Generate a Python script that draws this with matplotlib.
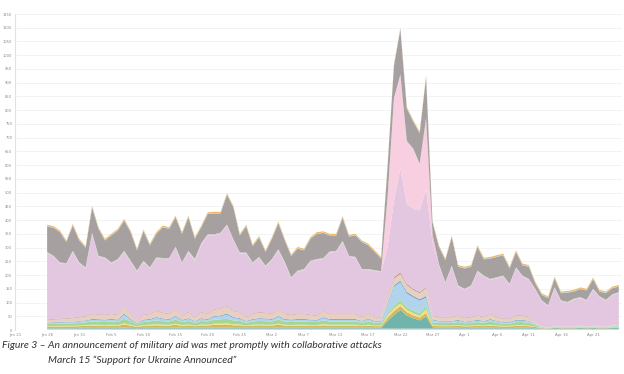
import matplotlib
matplotlib.use("Agg")
import matplotlib.pyplot as plt
import pandas as pd

dates = pd.date_range("2023-01-26", periods=90, freq="D")

pinkline = [2]*78 + [1] + [2]*11
graylo = [2,3,3,3,3,3,3,3,3,3, 3,3,3,3,2,3,3,3,3,3, 3,3,3,3,3,3,3,3,3,3,
          3,3,3,3,3,3,3,3,3,3, 3,3,3,3,3,3,3,3,3,3, 3,3,3,3,3,3,3,3,3,3,
          3,3,3,3,3,3,3,3,3,3, 3,3,3,3,3,3,3,2,2,2, 2,2,2,2,2,2,2,2,2,2]
teal = [2,2,2,2,2,3,3,3,3,3, 3,3,4,3,2,3,3,3,3,3, 4,3,3,3,3,3,4,4,4,3,
        3,3,3,3,3,3,4,3,3,3, 3,3,3,3,3,3,3,3,3,3, 3,3,3,28,50,68,48,38,30,45,
        5,3,3,3,3,2,3,3,3,3, 3,2,2,3,3,3,2,2,1,3, 2,2,2,3,2,3,2,2,3,3]
olive = [5,5,6,6,6,6,7,8,8,7, 8,7,11,8,5,7,8,9,8,8, 10,7,9,6,9,8,10,10,11,9,
         9,6,8,9,8,8,10,8,7,8, 8,7,7,9,8,8,8,8,8,6, 8,6,6,12,14,14,12,10,10,12,
         6,6,6,6,7,6,6,7,6,8, 6,6,6,7,7,6,4,1,1,2, 1,1,1,2,1,2,1,1,2,2]
yellow = [2,2,2,2,2,2,3,3,3,3, 3,3,4,3,2,3,3,4,3,3, 4,3,3,2,3,3,4,4,4,4,
          3,2,3,3,3,3,4,3,3,3, 3,3,3,4,3,3,3,3,3,2, 3,2,2,8,10,10,8,8,6,14,
          3,2,2,2,3,2,2,3,2,3, 2,2,2,3,3,2,1,1,0,1, 1,1,1,1,1,1,1,1,1,1]
green = [8,8,8,9,9,10,10,12,11,11, 12,11,17,12,7,11,12,14,13,12, 15,11,13,10,13,12,15,16,17,14,
         13,10,12,13,13,12,15,12,11,12, 12,11,11,14,12,12,12,12,12,10, 13,10,10,8,10,12,10,10,10,12,
         9,10,10,10,11,9,10,11,10,12, 10,8,8,11,11,10,6,2,2,3, 2,2,2,3,2,3,2,2,3,4]
lightblue = [3,4,4,4,4,5,5,6,6,6, 6,6,15,6,3,6,6,9,7,6, 11,5,7,5,7,6,10,11,15,9,
             7,5,6,7,7,6,10,6,6,6, 6,6,5,9,6,6,6,6,6,5, 7,5,5,35,68,65,50,48,46,30,
             8,5,5,5,5,4,5,5,5,6, 5,4,4,5,5,5,3,1,0,1, 1,1,1,1,1,1,1,1,1,1]
blue = [2,2,2,2,2,2,2,3,3,3, 3,3,4,3,2,3,3,3,3,3, 3,3,3,2,3,3,3,3,4,3,
        3,2,3,3,3,3,3,3,3,3, 3,3,3,3,3,3,3,3,3,2, 3,2,2,4,5,6,6,5,5,6,
        3,2,2,2,3,2,2,3,2,3, 2,2,2,3,3,2,1,0,0,0, 0,0,0,0,0,0,0,0,0,0]
peach = [10,10,11,11,13,13,15,18,17,16, 18,16,25,18,9,16,18,23,20,18, 24,15,21,13,21,18,23,25,26,23,
         21,13,18,21,20,18,23,18,16,18, 18,16,15,23,18,18,18,18,18,13, 20,13,13,22,25,24,24,22,22,28,
         13,13,13,13,15,13,13,15,13,18, 13,11,11,15,15,13,7,1,1,2, 1,1,1,2,1,2,1,1,2,3]
brown = [2]*53 + [4,5,6,5,4,4,4,2] + [2]*15 + [1] + [0]*13
lavender = [240,226,200,196,239,194,172,290,208,204, 182,198,197,188,176,192,164,188,194,198,
            221,188,218,203,242,284,268,270,292,254, 212,230,182,196,166,194,214,182,132,152,
            158,192,200,186,222,224,260,206,202,170, 154,166,162,174,278,380,291,291,297,356,
            266,188,122,182,104,101,110,158,146,122, 140,152,122,170,140,134,116,92,78,136,
            92,86,98,100,94,130,107,94,110,116]
lightpink = [0]*53 + [180,370,336,225,215,166,252,15] + [0]*29
magenta = [0]*59 + [4,12] + [0]*29
silver = [6] + [4]*22 + [8,8] + [4]*12 + [6] + [4]*52
gray = [93,102,110,77,92,80,71,92,98,62, 98,104,110,104,74,108,80,86,112,106,
        107,104,122,73,58,74,76,70,108,116, 62,95,59,70,50,74,95,78,77,80,
        68,80,92,91,58,56,84,70,78,98, 86,66,46,110,118,164,118,98,111,148,
        41,62,80,104,68,74,68,86,59,74, 74,74,56,56,38,44,20,20,26,32,
        26,34,26,29,34,35,17,24,22,20]
cyan = [2]*90
orange = [4]*90

series = [pinkline, graylo, teal, olive, yellow, green, lightblue, blue, peach, brown,
          lavender, lightpink, magenta, silver, gray, cyan, orange]
colors = ["#f2b9d0", "#d0cccc", "#72b4aa", "#d4b75e", "#f5de86", "#a2d894", "#b2d3ec",
          "#6f9fd1", "#e9cfc2", "#b3968a", "#e3c6df", "#f8cfe0", "#e48cb6", "#d8d3d3",
          "#a7a0a0", "#9fd3d6", "#f0b45e"]

yticks = list(range(0, 1151, 50))
xtick_dates = pd.date_range("2023-01-21", "2023-04-21", freq="5D")

fig = plt.figure(figsize=(6.24, 3.74), dpi=100)
ax = fig.add_axes([15/624, (374-330)/374, 607/624, 316/374])
ax.stackplot(dates, *series, colors=colors, linewidth=0)
ax.set_ylim(0, 1150)
ax.set_xlim(pd.Timestamp("2023-01-21"), pd.Timestamp("2023-04-25 12:00"))
ax.set_yticks(yticks)
ax.set_yticklabels([str(v) for v in yticks], fontsize=2.6, color="#8a8a8a")
ax.set_xticks(xtick_dates)
ax.set_xticklabels([d.strftime("%b %-d") for d in xtick_dates], fontsize=2.8, color="#8a8a8a")
ax.tick_params(axis="both", length=0, pad=2)
ax.grid(axis="y", color="#f1f1f1", linewidth=0.6)
ax.set_axisbelow(True)
for s in ["top", "right", "bottom"]:
    ax.spines[s].set_visible(False)
ax.spines["left"].set_color("#e2e2e2")
ax.spines["left"].set_linewidth(0.8)

fig.text(2/624, 1 - 348/374, "Figure 3 \u2013 An announcement of military aid was met promptly with collaborative attacks",
         fontsize=7.5, family="Lato", style="italic", color="#333333", ha="left", va="baseline")
fig.text(48/624, 1 - 363/374, "March 15 \u201cSupport for Ukraine Announced\u201d",
         fontsize=7.5, family="Lato", style="italic", color="#333333", ha="left", va="baseline")

fig.savefig("out.png", dpi=100)
